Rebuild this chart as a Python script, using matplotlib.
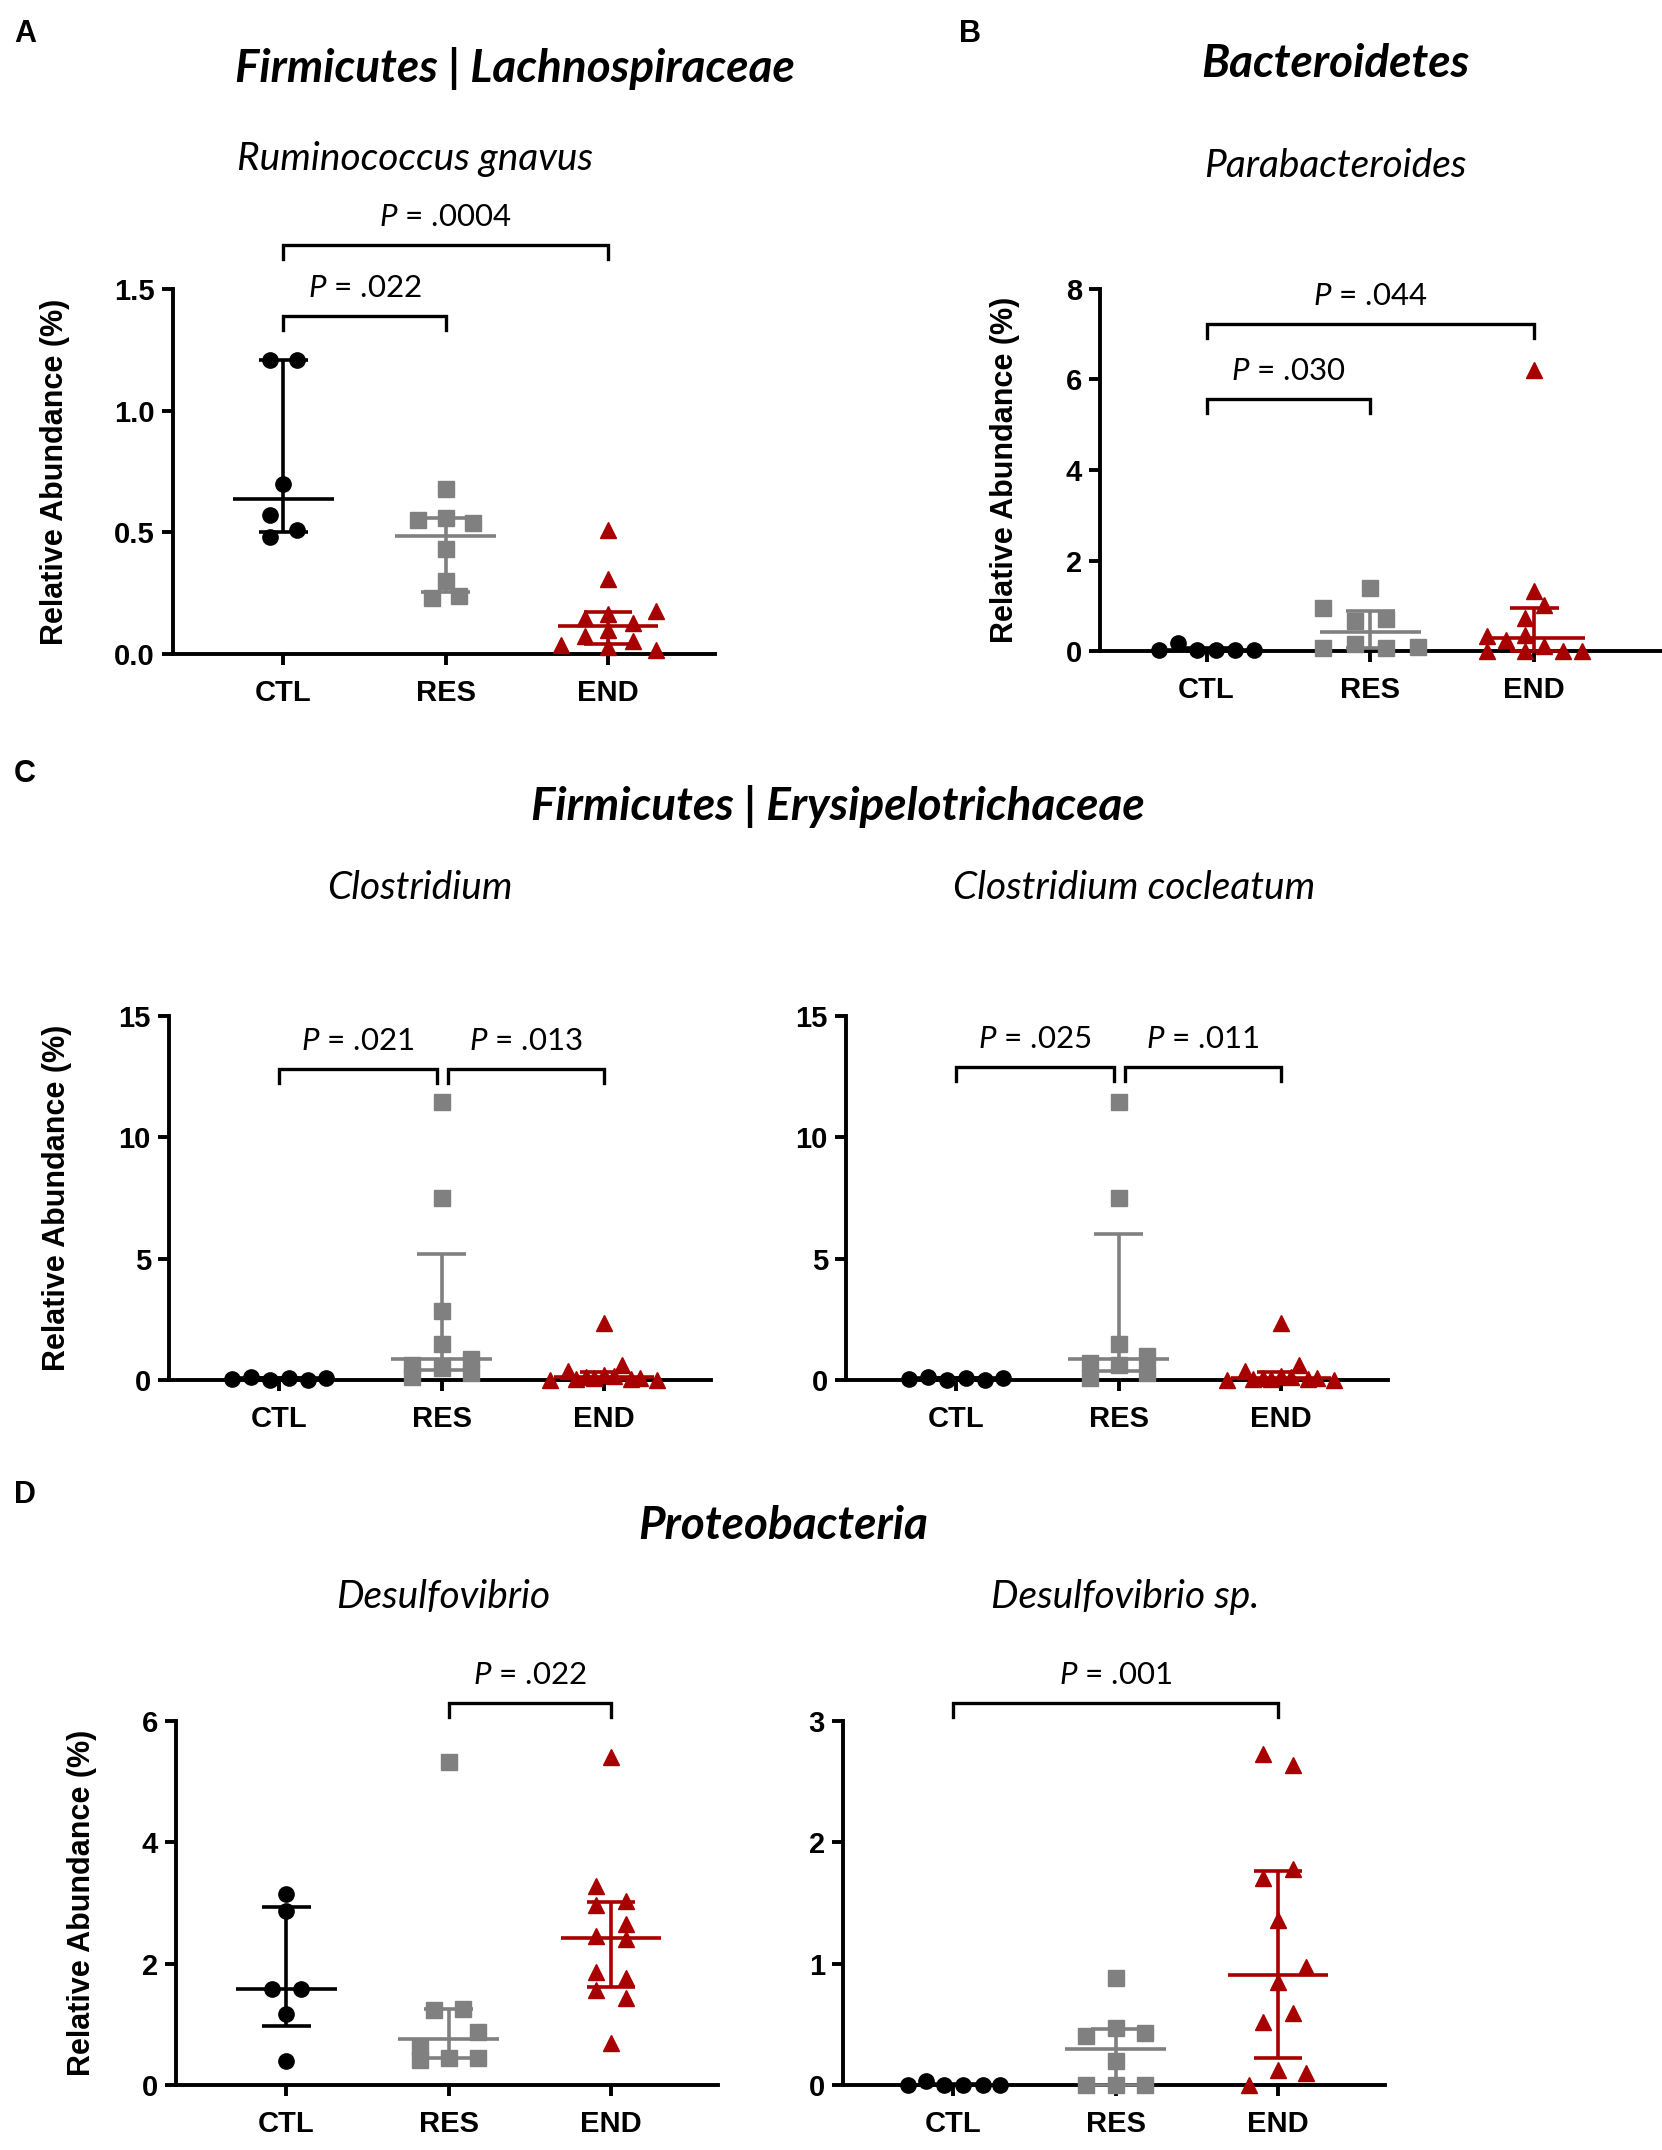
import numpy as np
import matplotlib
matplotlib.use("Agg")
import matplotlib.pyplot as plt

W, H = 1662, 2150

groups = ["CTL", "RES", "END"]
colors = ["#000000", "#808080", "#a80000"]
markers = ["o", "s", "^"]
msizes = [11, 11, 11.5]

# ---- values (relative abundance, %) ----
# A  Ruminococcus gnavus
a_ctl = [1.21, 1.21, 0.70, 0.57, 0.51, 0.48]
a_res = [0.68, 0.55, 0.56, 0.54, 0.43, 0.30, 0.23, 0.24]
a_end = [0.51, 0.31, 0.146, 0.166, 0.177, 0.129, 0.10, 0.075, 0.054, 0.038, 0.027, 0.016]

# B  Parabacteroides
b_ctl = [0.02, 0.17, 0.03, 0.03, 0.02, 0.02]
b_res = [1.40, 0.94, 0.67, 0.70, 0.07, 0.16, 0.07, 0.09]
b_end = [6.2, 1.32, 1.01, 0.74, 0.34, 0.25, 0.36, 0.01, 0.01, 0.12, 0.0, 0.01]

# C  Clostridium
c1_ctl = [0.04, 0.12, 0.01, 0.09, 0.01, 0.09]
c1_res = [11.47, 7.52, 2.84, 1.50, 0.60, 0.88, 0.50, 0.14, 0.30]
c1_end = [2.36, 0.38, 0.62, 0.0, 0.12, 0.2, 0.1, 0.02, 0.08, 0.15, 0.05, 0.04]

# C  Clostridium cocleatum
c2_ctl = [0.04, 0.13, 0.01, 0.09, 0.01, 0.09]
c2_res = [11.47, 7.52, 1.50, 0.69, 1.00, 0.63, 0.09, 0.27]
c2_end = [2.36, 0.36, 0.63, 0.0, 0.10, 0.18, 0.08, 0.02, 0.06, 0.14, 0.04, 0.03]

# D  Desulfovibrio
d1_ctl = [3.15, 2.87, 1.58, 1.58, 1.17, 0.39]
d1_res = [5.32, 1.23, 1.25, 0.88, 0.63, 0.41, 0.44, 0.44]
d1_end = [5.41, 3.28, 2.97, 3.04, 2.65, 2.46, 2.40, 1.87, 1.77, 1.57, 1.44, 0.69]

# D  Desulfovibrio sp.
d2_ctl = [0.0, 0.03, 0.0, 0.0, 0.0, 0.0]
d2_res = [0.88, 0.40, 0.47, 0.43, 0.20, 0.0, 0.0, 0.0]
d2_end = [2.73, 2.64, 1.78, 1.71, 1.36, 0.97, 0.85, 0.59, 0.52, 0.12, 0.10, 0.0]

# ---- horizontal scatter offsets (layout only) ----
row6 = [-0.29, -0.175, -0.058, 0.058, 0.175, 0.29]
a_jit = [[-0.085, 0.085, 0, -0.085, 0.085, -0.085],
         [0, -0.17, 0, 0.17, 0, 0, -0.085, 0.085],
         [0, 0, -0.144, 0, 0.295, 0.152, 0, -0.144, 0.152, -0.29, 0, 0.295]]
b_jit = [row6,
         [0, -0.288, -0.095, 0.097, -0.288, -0.095, 0.097, 0.29],
         [0, 0, 0.06, -0.057, -0.29, -0.172, -0.057, -0.29, -0.057, 0.06, 0.176, 0.29]]
c1_jit = [row6,
          [0, 0, 0, 0, -0.18, 0.18, 0, -0.18, 0.18],
          [0, -0.22, 0.11, -0.33, -0.11, 0, 0.22, 0.33, -0.06, 0.06, -0.17, 0.17]]
c2_jit = [row6,
          [0, 0, 0, -0.175, 0.175, 0, -0.175, 0.175],
          [0, -0.22, 0.11, -0.33, -0.11, 0, 0.22, 0.33, -0.06, 0.06, -0.17, 0.17]]
d1_jit = [[0, 0, -0.09, 0.09, 0, 0],
          [0, -0.088, 0.09, 0.178, -0.178, -0.178, 0, 0.178],
          [0, -0.09, -0.09, 0.09, 0.09, -0.09, 0.09, -0.09, 0.09, -0.09, 0.09, 0]]
d2_jit = [[-0.28, -0.17, -0.055, 0.06, 0.18, 0.29],
          [0, -0.18, 0, 0.18, 0, -0.18, 0, 0.18],
          [-0.09, 0.09, 0.09, -0.09, 0, 0.176, 0, 0.09, -0.09, 0, 0.176, -0.18]]

plt.rcParams["font.family"] = ["Liberation Sans", "DejaVu Sans"]
plt.rcParams["mathtext.fontset"] = "custom"
plt.rcParams["mathtext.it"] = "Lato:italic"
plt.rcParams["mathtext.rm"] = "Lato"

TXT = ["Lato", "DejaVu Sans"]

fig = plt.figure(figsize=(W / 100, H / 100), dpi=100)


def fx(px):
    return px / W


def fy(py):
    return 1 - py / H


def panel(left, right, top, bottom, xlim, ymax, yticks, ylabels, data, jit, brackets):
    ax = fig.add_axes([fx(left), fy(bottom), fx(right - left), (bottom - top) / H])
    ax.set_xlim(*xlim)
    ax.set_ylim(0, ymax)
    for s in ["top", "right"]:
        ax.spines[s].set_visible(False)
    for s in ["left", "bottom"]:
        ax.spines[s].set_linewidth(2.8)
    ax.set_xticks(range(3))
    ax.set_xticklabels(groups)
    ax.set_yticks(yticks)
    ax.set_yticklabels(ylabels)
    ax.tick_params(width=2.8, length=8, labelsize=21, pad=5)
    ax.tick_params(axis="x", pad=10)
    for lbl in ax.get_xticklabels() + ax.get_yticklabels():
        lbl.set_fontweight("bold")

    for i, (vals, dx) in enumerate(zip(data, jit)):
        vals = np.asarray(vals)
        xs = i + np.asarray(dx)
        ax.plot(xs, vals, ls="none", marker=markers[i], ms=msizes[i],
                color=colors[i], mec=colors[i], clip_on=False, zorder=3)
        q1, med, q3 = np.percentile(vals, [25, 50, 75], method="weibull")
        kw = dict(color=colors[i], lw=2.6, clip_on=False, zorder=4,
                  solid_capstyle="butt")
        ax.plot([i - 0.31, i + 0.31], [med, med], **kw)
        ax.plot([i, i], [q1, q3], **kw)
        ax.plot([i - 0.15, i + 0.15], [q1, q1], **kw)
        ax.plot([i - 0.15, i + 0.15], [q3, q3], **kw)

    ppu = (bottom - top) / ymax
    leg = 14 / ppu
    for x1, x2, yb, label in brackets:
        ax.plot([x1, x1, x2, x2], [yb - leg, yb, yb, yb - leg], color="black",
                lw=2.4, clip_on=False, solid_joinstyle="miter")
        ax.text((x1 + x2) / 2, yb + 28 / ppu, label, ha="center", va="center",
                fontsize=22.5, family=TXT)
    return ax


def ylabel(px, top, bottom):
    fig.text(fx(px), fy((top + bottom) / 2), "Relative Abundance (%)", rotation=90,
             ha="center", va="center", fontsize=22, fontweight="bold")


def heading(x, y, s, size, bold):
    fig.text(fx(x), fy(y), s, ha="center", va="center", fontsize=size,
             style="italic", fontweight="bold" if bold else "normal", family=TXT)


def letter(x, y, s):
    fig.text(fx(x), fy(y), s, ha="center", va="center", fontsize=22, fontweight="bold")


# A
letter(25, 34, "A")
heading(515, 68, "Firmicutes | Lachnospiraceae", 33, True)
heading(415, 159, "Ruminococcus gnavus", 28, False)
panel(173, 715, 289, 654, (-0.68, 2.66), 1.5, [0, 0.5, 1.0, 1.5],
      ["0.0", "0.5", "1.0", "1.5"], [a_ctl, a_res, a_end], a_jit,
      [(0, 2, 1.68, "$P$ = .0004"), (0, 1, 1.39, "$P$ = .022")])
ylabel(55, 289, 654)

# B
letter(970, 34, "B")
heading(1335, 64, "Bacteroidetes", 33, True)
heading(1335, 166, "Parabacteroides", 28, False)
panel(1100, 1662, 289, 651, (-0.65, 2.78), 8, [0, 2, 4, 6, 8],
      ["0", "2", "4", "6", "8"], [b_ctl, b_res, b_end], b_jit,
      [(0, 2, 7.23, "$P$ = .044"), (0, 1, 5.57, "$P$ = .030")])
ylabel(1005, 289, 651)

# C
letter(25, 774, "C")
heading(838, 807, "Firmicutes | Erysipelotrichaceae", 33, True)
heading(420, 888, "Clostridium", 28, False)
heading(1134, 888, "Clostridium cocleatum", 28, False)
panel(169, 711, 1016, 1380, (-0.68, 2.66), 15, [0, 5, 10, 15],
      ["0", "5", "10", "15"], [c1_ctl, c1_res, c1_end], c1_jit,
      [(0, 0.97, 12.8, "$P$ = .021"), (1.04, 2, 12.8, "$P$ = .013")])
ylabel(57, 1016, 1380)
panel(846, 1388, 1016, 1380, (-0.68, 2.66), 15, [0, 5, 10, 15],
      ["0", "5", "10", "15"], [c2_ctl, c2_res, c2_end], c2_jit,
      [(0, 0.97, 12.9, "$P$ = .025"), (1.04, 2, 12.9, "$P$ = .011")])

# D
letter(25, 1495, "D")
heading(783, 1526, "Proteobacteria", 33, True)
heading(443, 1597, "Desulfovibrio", 28, False)
heading(1125, 1597, "Desulfovibrio sp.", 28, False)
panel(176, 718, 1721, 2085, (-0.68, 2.66), 6, [0, 2, 4, 6],
      ["0", "2", "4", "6"], [d1_ctl, d1_res, d1_end], d1_jit,
      [(1, 2, 6.29, "$P$ = .022")])
ylabel(82, 1721, 2085)
panel(843, 1385, 1721, 2085, (-0.68, 2.66), 3, [0, 1, 2, 3],
      ["0", "1", "2", "3"], [d2_ctl, d2_res, d2_end], d2_jit,
      [(0, 2, 3.15, "$P$ = .001")])

fig.savefig("out.png", dpi=100)
